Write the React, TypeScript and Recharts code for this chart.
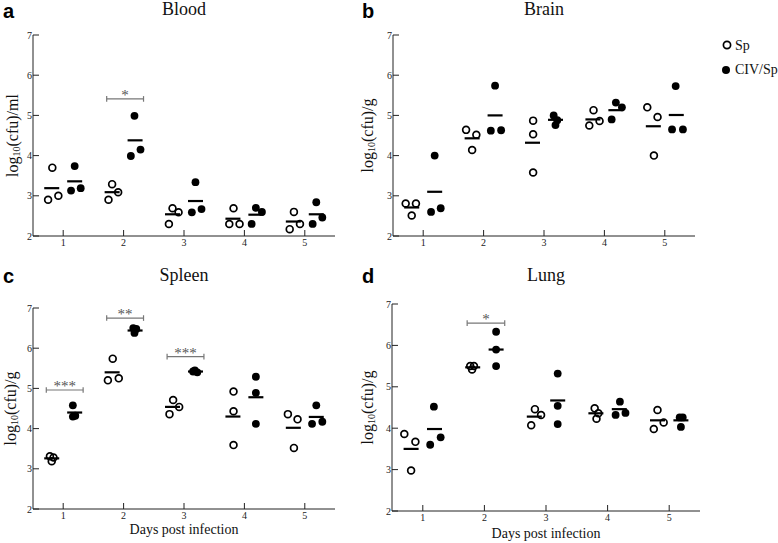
import React from 'react';
import { ScatterChart, Scatter, XAxis, YAxis, ReferenceLine, Legend } from 'recharts';

const FONT = '"Liberation Serif", "Times New Roman", serif';

const days = [1, 2, 3, 4, 5];
const yTicks = [2, 3, 4, 5, 6, 7];
const groups = ['Sp', 'CIV/Sp'];

// horizontal position of each group's mean bar, relative to the day
const SP_SHIFT = -0.19;
const CIV_SHIFT = 0.19;

// Blood, log10(cfu)/ml  -- [day position, value]
const bloodSp: [number, number][] = [
  [0.75, 2.9], [0.82, 3.7], [0.92, 3.0],
  [1.75, 2.9], [1.81, 3.29], [1.91, 3.09],
  [2.75, 2.3], [2.81, 2.69], [2.91, 2.59],
  [3.75, 2.3], [3.82, 2.69], [3.92, 2.3],
  [4.75, 2.17], [4.82, 2.6], [4.92, 2.3],
];
const bloodCiv: [number, number][] = [
  [1.13, 3.13], [1.19, 3.74], [1.29, 3.19],
  [2.12, 3.99], [2.18, 4.99], [2.28, 4.15],
  [3.13, 2.59], [3.19, 3.34], [3.29, 2.67],
  [4.12, 2.3], [4.19, 2.7], [4.29, 2.6],
  [5.13, 2.3], [5.19, 2.84], [5.29, 2.46],
];
const bloodSpMean = [3.19, 3.09, 2.54, 2.43, 2.36];
const bloodCivMean = [3.36, 4.38, 2.87, 2.53, 2.54];
const bloodSig = [{ day: 2, y: 5.41, stars: '*' }];

// Brain, log10(cfu)/g
const brainSp: [number, number][] = [
  [0.71, 2.81], [0.81, 2.51], [0.88, 2.81],
  [1.71, 4.64], [1.81, 4.14], [1.88, 4.52],
  [2.82, 4.87], [2.82, 4.53], [2.82, 3.58],
  [3.75, 4.75], [3.82, 5.13], [3.92, 4.86],
  [4.71, 5.2], [4.82, 4.0], [4.88, 4.96],
];
const brainCiv: [number, number][] = [
  [1.13, 2.6], [1.19, 4.0], [1.29, 2.69],
  [2.12, 4.62], [2.19, 5.74], [2.29, 4.63],
  [3.16, 5.0], [3.19, 4.76], [3.22, 4.88],
  [4.12, 4.9], [4.19, 5.32], [4.29, 5.2],
  [5.12, 4.65], [5.18, 5.73], [5.3, 4.65],
];
const brainSpMean = [2.71, 4.43, 4.32, 4.9, 4.73];
const brainCivMean = [3.1, 5.0, 4.89, 5.13, 5.01];

// Spleen, log10(cfu)/g
const spleenSp: [number, number][] = [
  [0.78, 3.31], [0.81, 3.19], [0.84, 3.28],
  [1.74, 5.2], [1.82, 5.74], [1.92, 5.25],
  [2.76, 4.36], [2.82, 4.71], [2.92, 4.54],
  [3.82, 4.92], [3.82, 4.43], [3.82, 3.59],
  [4.72, 4.36], [4.82, 3.52], [4.88, 4.23],
];
const spleenCiv: [number, number][] = [
  [1.16, 4.58], [1.16, 4.3], [1.2, 4.32],
  [2.16, 6.5], [2.18, 6.38], [2.21, 6.48],
  [3.15, 5.42], [3.18, 5.45], [3.22, 5.4],
  [4.19, 5.29], [4.19, 4.89], [4.19, 4.12],
  [5.12, 4.12], [5.19, 4.58], [5.29, 4.17],
];
const spleenSpMean = [3.26, 5.4, 4.54, 4.3, 4.02];
const spleenCivMean = [4.4, 6.44, 5.42, 4.78, 4.29];
const spleenSig = [
  { day: 1, y: 4.96, stars: '***' },
  { day: 2, y: 6.75, stars: '**' },
  { day: 3, y: 5.79, stars: '***' },
];

// Lung, log10(cfu)/g
const lungSp: [number, number][] = [
  [0.7, 3.86], [0.81, 2.98], [0.88, 3.67],
  [1.77, 5.5], [1.8, 5.42], [1.83, 5.5],
  [2.76, 4.07], [2.82, 4.46], [2.92, 4.32],
  [3.79, 4.48], [3.82, 4.23], [3.85, 4.36],
  [4.75, 3.98], [4.81, 4.44], [4.91, 4.14],
];
const lungCiv: [number, number][] = [
  [1.12, 3.6], [1.18, 4.52], [1.29, 3.78],
  [2.19, 6.33], [2.19, 5.9], [2.19, 5.5],
  [3.19, 5.32], [3.19, 4.54], [3.19, 4.1],
  [4.13, 4.32], [4.2, 4.64], [4.29, 4.37],
  [5.17, 4.26], [5.22, 4.26], [5.19, 4.03],
];
const lungSpMean = [3.5, 5.47, 4.28, 4.36, 4.19];
const lungCivMean = [3.98, 5.9, 4.67, 4.46, 4.19];
const lungSig = [{ day: 2, y: 6.54, stars: '*' }];

type Sig = { day: number; y: number; stars: string };

const OpenDot = (p: any) => (
  <circle cx={p.cx} cy={p.cy} r={3.4} fill="none" stroke="#000" strokeWidth={1.7} />
);
const FilledDot = (p: any) => <circle cx={p.cx} cy={p.cy} r={3.9} fill="#000" />;
const MeanBar = (p: any) => (
  <line x1={p.cx - 7.5} x2={p.cx + 7.5} y1={p.cy} y2={p.cy} stroke="#000" strokeWidth={2.2} />
);

// tick text drawn by hand so the serif face is certain
function Tick({ x, y, payload, textAnchor, orient }: any) {
  return (
    <text
      x={x}
      y={y}
      dy={orient === 'bottom' ? 3 : 3.5}
      textAnchor={textAnchor}
      fontFamily={FONT}
      fontSize={10}
      fill="#222"
    >
      {payload.value}
    </text>
  );
}

function YLabel({ viewBox, unit, dx }: any) {
  const cx = viewBox.x + dx;
  const cy = viewBox.y + viewBox.height / 2;
  return (
    <text
      x={cx}
      y={cy}
      transform={`rotate(-90 ${cx} ${cy})`}
      textAnchor="middle"
      dominantBaseline="central"
      fontFamily={FONT}
      fontSize={16}
      fill="#111"
    >
      log<tspan dy={4} fontSize={10}>10</tspan>
      <tspan dy={-4}>(cfu)/{unit}</tspan>
    </text>
  );
}

function XLabel({ viewBox, dy }: any) {
  return (
    <text
      x={viewBox.x + viewBox.width / 2}
      y={viewBox.y + dy}
      textAnchor="middle"
      fontFamily={FONT}
      fontSize={14}
      fill="#111"
    >
      Days post infection
    </text>
  );
}

function LegendBox() {
  return (
    <svg width={60} height={45}>
      <circle cx={7} cy={9} r={3.6} fill="none" stroke="#000" strokeWidth={1.7} />
      <text x={15} y={14} fontFamily={FONT} fontSize={14} fill="#111">{groups[0]}</text>
      <circle cx={6} cy={34} r={4} fill="#000" />
      <text x={15} y={38} fontFamily={FONT} fontSize={14} fill="#111">{groups[1]}</text>
    </svg>
  );
}

const toPts = (arr: [number, number][]) => arr.map(([x, y]) => ({ x, y }));
const toMeans = (arr: number[], shift: number) => arr.map((y, i) => ({ x: days[i] + shift, y }));

interface PanelProps {
  left: number;
  top: number;
  width: number;
  height: number;
  margin: { top: number; right: number; bottom: number; left: number };
  sp: [number, number][];
  civ: [number, number][];
  spMean: number[];
  civMean: number[];
  sig: Sig[];
  unit: string;
  labelDx: number;
  xLabelDy?: number;
  legend?: boolean;
}

function Panel(props: PanelProps) {
  const { left, top, width, height, margin, sp, civ, spMean, civMean, sig, unit, labelDx, xLabelDy, legend } = props;
  return (
    <div style={{ position: 'absolute', left, top }}>
      <ScatterChart width={width} height={height} margin={margin} style={{ fontFamily: FONT }}>
        <XAxis
          type="number"
          dataKey="x"
          domain={[0.5, 5.5]}
          ticks={days}
          tickSize={-6}
          tickMargin={13}
          tick={<Tick orient="bottom" />}
          axisLine={{ stroke: '#222' }}
          tickLine={{ stroke: '#222' }}
          height={30}
          label={xLabelDy ? <XLabel dy={xLabelDy} /> : undefined}
        />
        <YAxis
          type="number"
          dataKey="y"
          domain={[2, 7]}
          ticks={yTicks}
          tickSize={-6}
          tickMargin={7}
          tick={<Tick orient="left" />}
          axisLine={{ stroke: '#222' }}
          tickLine={{ stroke: '#222' }}
          width={20}
          label={<YLabel unit={unit} dx={labelDx} />}
        />
        {sig.flatMap((s, i) => {
          const x1 = s.day - 0.28;
          const x2 = s.day + 0.33;
          return [
            <ReferenceLine
              key={`b${i}`}
              segment={[{ x: x1, y: s.y }, { x: x2, y: s.y }]}
              stroke="#777"
              strokeWidth={1.2}
              ifOverflow="visible"
              label={{ value: s.stars, position: 'top', offset: -1, fill: '#555', fontSize: 15, fontFamily: FONT }}
            />,
            <ReferenceLine
              key={`l${i}`}
              segment={[{ x: x1, y: s.y - 0.07 }, { x: x1, y: s.y + 0.07 }]}
              stroke="#777"
              strokeWidth={1.2}
              ifOverflow="visible"
            />,
            <ReferenceLine
              key={`r${i}`}
              segment={[{ x: x2, y: s.y - 0.07 }, { x: x2, y: s.y + 0.07 }]}
              stroke="#777"
              strokeWidth={1.2}
              ifOverflow="visible"
            />,
          ];
        })}
        <Scatter name="Sp" data={toPts(sp)} shape={OpenDot} isAnimationActive={false} />
        <Scatter name="CIV/Sp" data={toPts(civ)} shape={FilledDot} isAnimationActive={false} />
        <Scatter data={toMeans(spMean, SP_SHIFT)} shape={MeanBar} isAnimationActive={false} legendType="none" />
        <Scatter data={toMeans(civMean, CIV_SHIFT)} shape={MeanBar} isAnimationActive={false} legendType="none" />
        {legend && (
          <Legend
            layout="horizontal"
            verticalAlign="middle"
            align="center"
            content={() => <LegendBox />}
            wrapperStyle={{ left: 360, top: 36, width: 60, height: 45 }}
          />
        )}
      </ScatterChart>
    </div>
  );
}

export default function App() {
  const letter = { fontFamily: '"Liberation Sans", Arial, sans-serif', fontWeight: 700, fontSize: 20, fill: '#000' };
  const title = { fontFamily: FONT, fontSize: 18, fill: '#111', textAnchor: 'middle' as const };
  return (
    <div style={{ position: 'absolute', left: 0, top: 0, width: 778, height: 543, background: '#fff', fontFamily: FONT }}>
      <Panel
        left={0} top={0} width={389} height={270}
        margin={{ top: 35, right: 54, bottom: 4, left: 13 }}
        sp={bloodSp} civ={bloodCiv} spMean={bloodSpMean} civMean={bloodCivMean} sig={bloodSig}
        unit="ml" labelDx={-1}
      />
      <Panel
        left={360} top={0} width={418} height={270}
        margin={{ top: 35, right: 83, bottom: 4, left: 13 }}
        sp={brainSp} civ={brainCiv} spMean={brainSpMean} civMean={brainCivMean} sig={[]}
        unit="g" labelDx={-6} legend
      />
      <Panel
        left={0} top={270} width={389} height={273}
        margin={{ top: 38, right: 54, bottom: 4, left: 13 }}
        sp={spleenSp} civ={spleenCiv} spMean={spleenSpMean} civMean={spleenCivMean} sig={spleenSig}
        unit="g" labelDx={-3} xLabelDy={25}
      />
      <Panel
        left={359} top={270} width={419} height={273}
        margin={{ top: 34, right: 78, bottom: 2, left: 13 }}
        sp={lungSp} civ={lungCiv} spMean={lungSpMean} civMean={lungCivMean} sig={lungSig}
        unit="g" labelDx={-5} xLabelDy={27}
      />
      <svg width={778} height={543} style={{ position: 'absolute', left: 0, top: 0, pointerEvents: 'none' }}>
        <text x={3} y={18} {...letter}>a</text>
        <text x={362} y={18} {...letter}>b</text>
        <text x={3} y={283} {...letter}>c</text>
        <text x={362} y={283} {...letter}>d</text>
        <text x={184} y={15} {...title}>Blood</text>
        <text x={544} y={15} {...title}>Brain</text>
        <text x={184} y={281} {...title}>Spleen</text>
        <text x={546} y={281} {...title}>Lung</text>
      </svg>
    </div>
  );
}
